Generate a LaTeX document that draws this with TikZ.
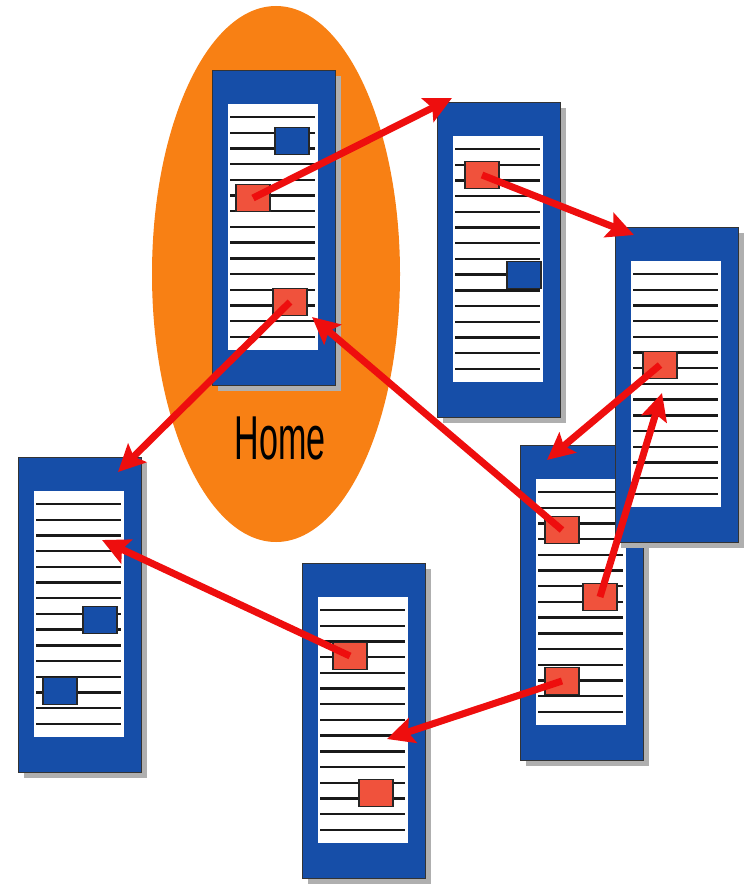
\documentclass[tikz,border=0pt]{standalone}
\usepackage{fontspec}
\setmainfont{Liberation Sans}
\usetikzlibrary{arrows.meta, shapes.geometric}
\definecolor{pgBlue}{RGB}{22, 78, 168}
\definecolor{homeOrange}{RGB}{248, 128, 20}
\definecolor{arrRed}{RGB}{238, 14, 14}
\definecolor{boxRed}{RGB}{240, 82, 60}
\definecolor{shadowGray}{RGB}{175, 175, 175}

\begin{document}
\begin{tikzpicture}[
    x=1pt, y=-1pt,
    page/.style={rectangle, draw=black!80, line width=1.2pt, fill=pgBlue, minimum width=123pt,
        minimum height=315pt, inner sep=0pt, anchor=north west},
    redbox/.style={rectangle, draw=black!85, line width=1.4pt, fill=boxRed, minimum width=34pt,
        minimum height=27pt, inner sep=0pt},
    bluebox/.style={redbox, fill=pgBlue},
    txt/.style={line width=2.4pt, black!90},
    arr/.style={-{Stealth[length=27pt, width=26pt, inset=5pt]}, line width=7pt, arrRed}
]
\useasboundingbox (0,0) rectangle (748,891);

% home area
\node[ellipse, fill=homeOrange, minimum width=248pt, minimum height=536pt, inner sep=0pt] (homebg) at (276,274) {};
\node[font=\fontsize{62}{62}\selectfont] (homelbl) at (280,438) {\scalebox{0.55}[1]{Home}};

% pages, back to front
\foreach \n/\x/\y in {home/212/70, pg2/437/102, pg4/520/445, pg3/615/227, pg5/18/457, pg6/302/563} {
    \fill[shadowGray] (\x+6,\y+6) rectangle ++(123,315);
    \node[page] (\n) at (\x,\y) {};
    \fill[white] (\x+16,\y+34) rectangle (\x+106,\y+280);
    \foreach \k in {0,...,14}
        \draw[txt] (\x+18,\y+47+\k*15.7) -- ++(85,0);
}

% links on the pages
\node[bluebox] (hb)  at (292,141) {};
\node[redbox]  (hr1) at (253,198) {};
\node[redbox]  (hr2) at (290,302) {};
\node[redbox]  (r2)  at (482,175) {};
\node[bluebox] (b2)  at (524,275) {};
\node[redbox]  (r3)  at (660,365) {};
\node[redbox]  (r4a) at (562,530) {};
\node[redbox]  (r4b) at (600,597) {};
\node[redbox]  (r4c) at (562,681) {};
\node[bluebox] (b5a) at (100,620) {};
\node[bluebox] (b5b) at (60,691) {};
\node[redbox]  (r6a) at (350,656) {};
\node[redbox]  (r6b) at (376,793) {};

% targets
\coordinate (t1) at (452,98);
\coordinate (t2) at (634,235);
\coordinate (t3) at (547,460);
\coordinate (t4) at (662,393);
\coordinate (t5) at (312,317);
\coordinate (t6) at (118,472);
\coordinate (t7) at (102,540);
\coordinate (t8) at (387,739);

\foreach \a/\b in {hr1/t1, r2/t2, r3/t3, r4b/t4, r4a/t5, hr2/t6, r6a/t7, r4c/t8}
    \draw[arr] (\a.center) -- (\b);
\end{tikzpicture}
\end{document}
